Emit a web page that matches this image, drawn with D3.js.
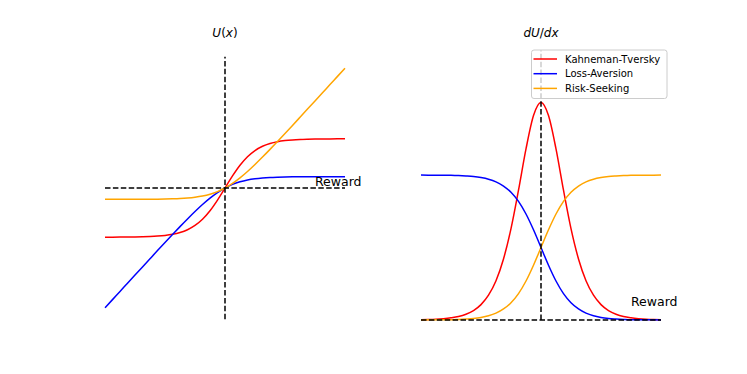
<!DOCTYPE html>
<html>
<head>
<meta charset="utf-8">
<script src="https://cdn.jsdelivr.net/npm/d3@7"></script>
<style>
  body { margin: 0; background: #fff; }
  svg { display: block; font-family: "DejaVu Sans", sans-serif; }
</style>
</head>
<body>
<svg width="747" height="374"></svg>
<script>
// reward values on the x axis (shared by both panels)
const xs = [-8,-7.5,-7,-6.5,-6,-5.5,-5,-4.5,-4,-3.5,-3,-2.5,-2,-1.5,-1,-0.5,0,0.5,1,1.5,2,2.5,3,3.5,4,4.5,5,5.5,6,6.5,7,7.5,8];

const seriesNames = ["Kahneman-Tversky", "Loss-Aversion", "Risk-Seeking"];
const seriesColors = ["red", "blue", "orange"];

// left panel: utility U(x)
const utilKT = [-2.998,-2.997,-2.995,-2.991,-2.985,-2.975,-2.960,-2.934,-2.892,-2.824,-2.715,-2.545,-2.285,-1.906,-1.387,-0.735,0,0.735,1.387,1.906,2.285,2.545,2.715,2.824,2.892,2.934,2.960,2.975,2.985,2.991,2.995,2.997,2.998];
const utilLoss = [-7.307,-6.807,-6.308,-5.808,-5.309,-4.811,-4.314,-3.818,-3.325,-2.837,-2.355,-1.886,-1.434,-1.008,-0.620,-0.281,0,0.219,0.380,0.492,0.566,0.614,0.645,0.663,0.675,0.682,0.686,0.689,0.691,0.692,0.692,0.693,0.693];
const utilRisk = [-0.693,-0.693,-0.692,-0.692,-0.691,-0.689,-0.686,-0.682,-0.675,-0.663,-0.645,-0.614,-0.566,-0.492,-0.380,-0.219,0,0.281,0.620,1.008,1.434,1.886,2.355,2.837,3.325,3.818,4.314,4.811,5.309,5.808,6.308,6.807,7.307];

// right panel: derivative dU/dx
const gradKT = [0.002,0.003,0.005,0.009,0.015,0.024,0.040,0.065,0.106,0.171,0.271,0.421,0.630,0.895,1.180,1.410,1.5,1.410,1.180,0.895,0.630,0.421,0.271,0.171,0.106,0.065,0.040,0.024,0.015,0.009,0.005,0.003,0.002];
const gradLoss = [1.000,0.999,0.999,0.999,0.998,0.996,0.993,0.989,0.982,0.971,0.953,0.924,0.881,0.818,0.731,0.622,0.5,0.378,0.269,0.182,0.119,0.076,0.047,0.029,0.018,0.011,0.007,0.004,0.002,0.002,0.001,0.001,0.000];
const gradRisk = [0.000,0.001,0.001,0.002,0.002,0.004,0.007,0.011,0.018,0.029,0.047,0.076,0.119,0.182,0.269,0.378,0.5,0.622,0.731,0.818,0.881,0.924,0.953,0.971,0.982,0.989,0.993,0.996,0.998,0.999,0.999,0.999,1.000];

// dashed guide lines
const leftGuideX = [-8, 8], leftGuideY = [-8, 8];
const rightGuideX = [-8, 8], rightGuideY = [0, 1.86];

const svg = d3.select("svg");
svg.append("rect").attr("width", 747).attr("height", 374).attr("fill", "#fff");

function drawPanel(opts) {
  const g = svg.append("g");
  const x = opts.x, y = opts.y;
  const line = d3.line()
    .x((d, i) => x(xs[i]))
    .y(d => y(d))
    .curve(d3.curveMonotoneX);

  opts.series.forEach((s, i) => {
    g.append("path")
      .datum(s)
      .attr("fill", "none")
      .attr("stroke", seriesColors[i])
      .attr("stroke-width", 1.5)
      .attr("d", line);
  });

  // dashed axes drawn after the curves
  g.append("line")
    .attr("x1", x(opts.guideX[0])).attr("x2", x(opts.guideX[1]))
    .attr("y1", y(0)).attr("y2", y(0))
    .attr("stroke", "black").attr("stroke-width", 1.5)
    .attr("stroke-dasharray", "5.5,2.4");
  g.append("line")
    .attr("x1", x(0)).attr("x2", x(0))
    .attr("y1", y(opts.guideY[0])).attr("y2", y(opts.guideY[1]))
    .attr("stroke", "black").attr("stroke-width", 1.5)
    .attr("stroke-dasharray", "5.5,2.4");

  g.append("text")
    .attr("x", x(6)).attr("y", y(0.1))
    .style("font-size", "12.5px")
    .text("Reward");

  const t = g.append("text")
    .attr("x", x(0)).attr("y", 37)
    .attr("text-anchor", "middle")
    .style("font-size", "12px");
  opts.title.forEach(p => {
    t.append("tspan").style("font-style", p[1] ? "italic" : "normal").text(p[0]);
  });
  return g;
}

const xL = d3.scaleLinear().domain([-8.8, 8.8]).range([93, 357]);
const yL = d3.scaleLinear().domain([-8.8, 8.8]).range([332.3, 43.7]);
drawPanel({
  x: xL, y: yL,
  series: [utilKT, utilLoss, utilRisk],
  guideX: leftGuideX, guideY: leftGuideY,
  title: [["U", true], ["(", false], ["x", true], [")", false]]
});

const xR = d3.scaleLinear().domain([-8.8, 8.8]).range([409, 673]);
const yR = d3.scaleLinear().domain([0, 1]).range([320, 175]);
const right = drawPanel({
  x: xR, y: yR,
  series: [gradKT, gradLoss, gradRisk],
  guideX: rightGuideX, guideY: rightGuideY,
  title: [["dU", true], ["/", false], ["dx", true]]
});

// legend
const legend = right.append("g").attr("transform", "translate(531.5,50)");
legend.append("rect")
  .attr("width", 135.5).attr("height", 48.5)
  .attr("rx", 2.5)
  .attr("fill", "white").attr("fill-opacity", 0.8)
  .attr("stroke", "#cccccc").attr("stroke-width", 1);
seriesNames.forEach((name, i) => {
  const row = legend.append("g").attr("transform", `translate(0,${9 + i * 14.7})`);
  row.append("line")
    .attr("x1", 2).attr("x2", 25.5)
    .attr("stroke", seriesColors[i]).attr("stroke-width", 1.5);
  row.append("text")
    .attr("x", 33.5).attr("y", 3.6)
    .style("font-size", "10px")
    .text(name);
});
</script>
</body>
</html>
